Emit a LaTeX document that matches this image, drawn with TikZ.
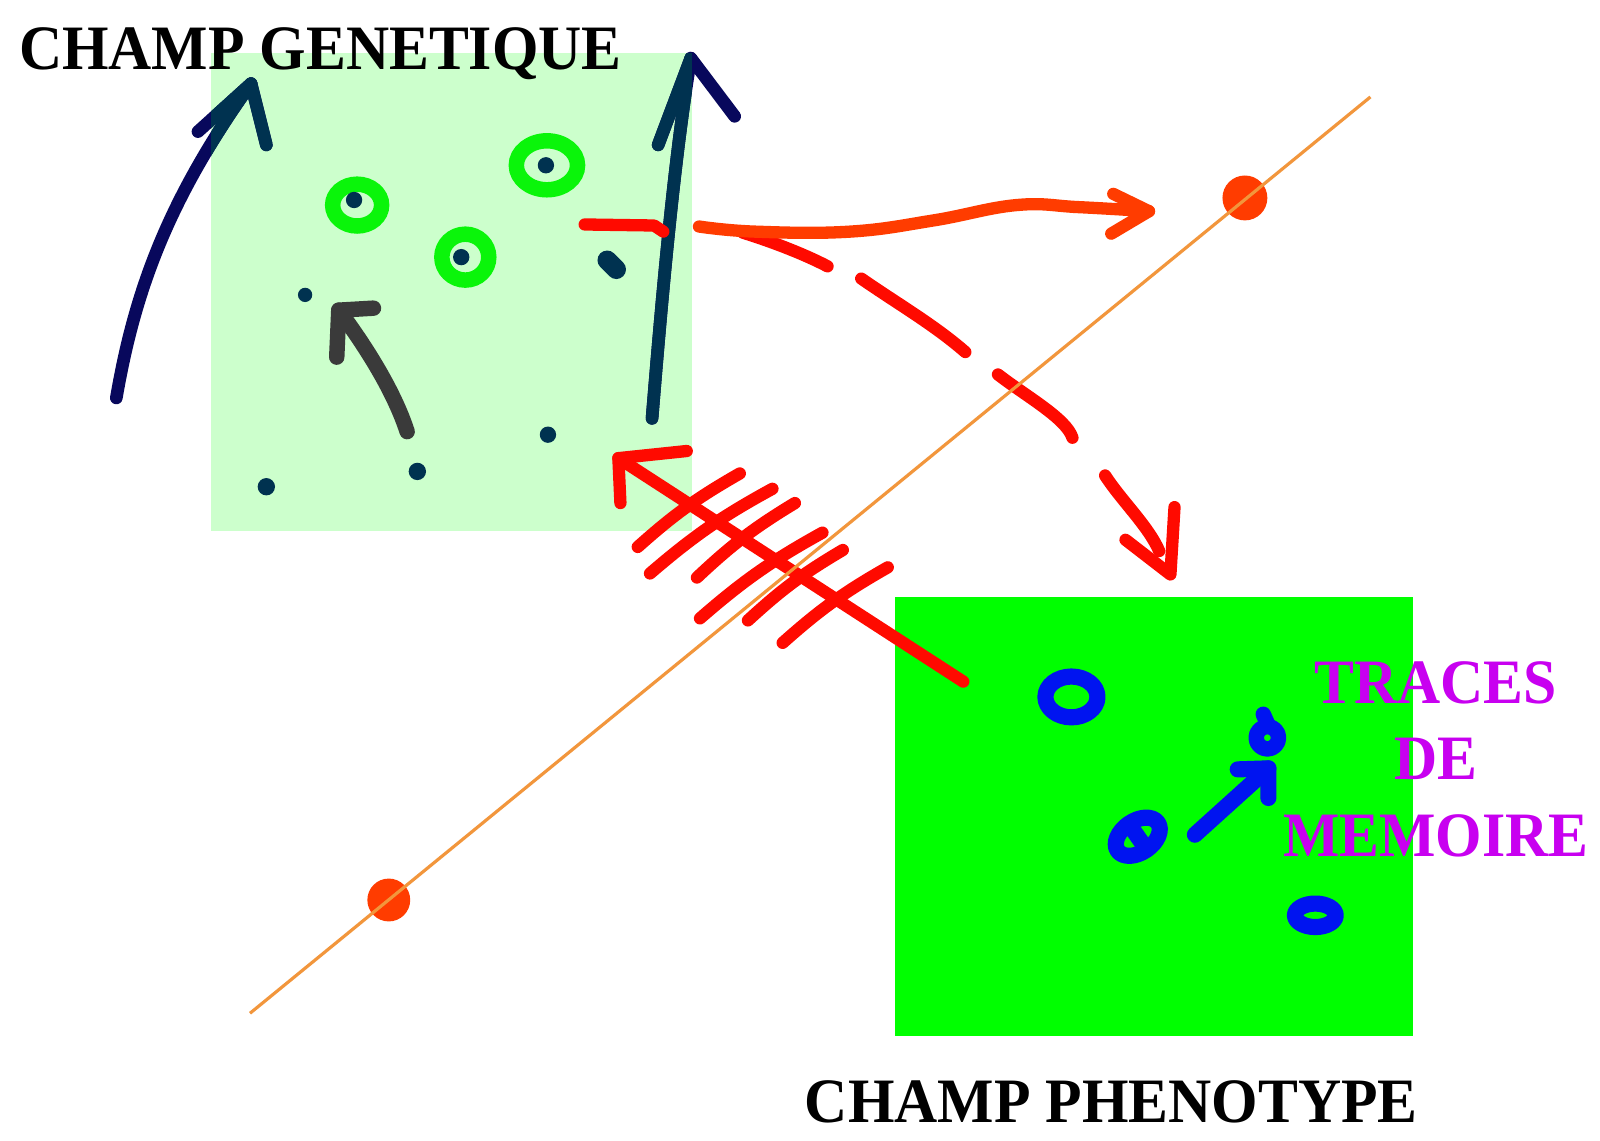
\documentclass[tikz,border=0pt]{standalone}
\usepackage{fontspec}
\setmainfont{Liberation Serif}
\definecolor{genegreen}{RGB}{204,255,204}
\definecolor{phenogreen}{RGB}{0,255,0}
\definecolor{ringgreen}{RGB}{10,245,10}
\definecolor{inknavy}{RGB}{8,8,92}
\definecolor{inkteal}{RGB}{0,50,80}
\definecolor{inkgray}{RGB}{58,58,58}
\definecolor{inkred}{RGB}{255,10,0}
\definecolor{inkorange}{RGB}{255,60,0}
\definecolor{axisline}{RGB}{242,150,60}
\definecolor{inkblue}{RGB}{0,20,240}
\definecolor{tracepurple}{RGB}{200,0,240}

\newcommand{\genearrows}[1]{%
  \draw[inkpen=3.6pt,#1] (114,390) .. controls (132,285) and (165,195) .. (246,82); % fleche gauche
  \draw[inkpen=3.6pt,#1] (194,129) -- (246,82) -- (261,142);
  \draw[inkpen=3.6pt,#1] (639,410) .. controls (648,300) and (660,160) .. (677,57); % fleche droite
  \draw[inkpen=3.6pt,#1] (645,142) -- (677,57) -- (720,114);
}

\begin{document}
\begin{tikzpicture}[x=0.010204cm, y=-0.010204cm,
  inkpen/.style={line width=#1, line cap=round, line join=round},
  inkpen/.default=3.5pt,
  titletext/.style={inner sep=0pt, xscale=0.945, transform shape, font=\fontsize{18}{21.8}\selectfont\bfseries}]
  \useasboundingbox (0,0) rectangle (1568,1118);
  \fill[white] (0,0) rectangle (1568,1118);

  \fill[genegreen] (207,52) rectangle (678,520); % champ genetique
  \fill[phenogreen] (877,585) rectangle (1385,1015); % champ phenotype

  % anneaux et points
  \draw[ringgreen, line width=4.4pt] (350,201) ellipse (24 and 20.5);
  \draw[ringgreen, line width=4.4pt] (536,162) ellipse (30 and 24);
  \draw[ringgreen, line width=4.4pt] (456,252) ellipse (23 and 22.5);
  \foreach \px/\py/\r in {347/196/8, 535/162/8, 452/252/8, 299/289/7, 537/426/8, 409/462/8.5, 261/477/8.5}
    \fill[inkteal] (\px,\py) circle (\r);
  \draw[inkpen=5.5pt, inkteal] (595,255) -- (604,264);

  \genearrows{inknavy}
  \begin{scope}
    \clip (207,52) rectangle (678,520);
    \genearrows{inkteal}
  \end{scope}
  \draw[inkpen=4.4pt, inkgray] (399,423) .. controls (385,380) and (355,335) .. (332,304); % fleche grise
  \draw[inkpen=4.4pt, inkgray] (330,350) -- (332,304) -- (366,302);

  % fleches rouges
  \draw[inkpen, inkred] (573,220) -- (641,221) -- (650,227);
  \draw[inkpen, inkred] (728,228) .. controls (760,238) and (790,250) .. (811,261);
  \draw[inkpen, inkred] (844,273) .. controls (880,298) and (915,318) .. (946,345);
  \draw[inkpen, inkred] (978,367) .. controls (1005,388) and (1045,410) .. (1051,429);
  \draw[inkpen, inkred] (1083,466) .. controls (1100,492) and (1125,515) .. (1136,540);
  \draw[inkpen, inkred] (1103,529) -- (1147,563) -- (1151,497);
  \draw[inkpen, inkorange] plot[smooth, tension=0.7] coordinates {(685,222) (740,227) (833,227) (915,216) (996,201) (1057,203) (1126,207)};
  \draw[inkpen, inkorange] (1091,190) -- (1126,207) -- (1089,229);

  \coordinate (hatchtip) at (606,449);
  \coordinate (hatchtail) at (944,668);
  \draw[inkpen, inkred] (hatchtail) -- (hatchtip);
  \draw[inkpen, inkred] (608,493) -- (hatchtip) -- (673,442);
  \foreach \xa/\ya/\xb/\yb in {625/536/725/464, 637/562/757/479, 683/566/779/493, 686/606/806/522, 733/608/826/539, 767/630/870/556}
    \draw[inkpen, inkred] (\xa,\ya) to[bend left=6] (\xb,\yb);

  % traces bleues
  \draw[inkpen=4.6pt, inkblue] (1050,683) ellipse (25.5 and 20);
  \draw[inkpen=4.6pt, inkblue, rotate around={35:(1115,820)}] (1115,820) ellipse (24 and 15.5);
  \draw[inkpen=4.6pt, inkblue] (1108,810) -- (1122,830);
  \draw[inkpen=4.4pt, inkblue] (1242,723) circle (11);
  \draw[inkpen=4.4pt, inkblue] (1238,700) -- (1242,709);
  \draw[inkpen=4.6pt, inkblue] (1289,897) ellipse (20 and 11.5);
  \draw[inkpen=4.6pt, inkblue] (1171,818) -- (1243,753);
  \draw[inkpen=4.6pt, inkblue] (1213,754) -- (1243,753) -- (1243,782);

  \node[titletext, anchor=base west] (genetique) at (18,68) {CHAMP GENETIQUE};
  \node[titletext, anchor=base] (phenotype) at (1089,1100) {CHAMP PHENOTYPE};
  \node[titletext, text=tracepurple, align=center] (traces) at (1407,744) {TRACES\\DE\\MEMOIRE};

  % axe
  \fill[inkorange] (1220,194) circle (22);
  \fill[inkorange] (381,882) circle (21);
  \draw[axisline, line width=0.9pt] (245,993) -- (1343,95);
\end{tikzpicture}
\end{document}
